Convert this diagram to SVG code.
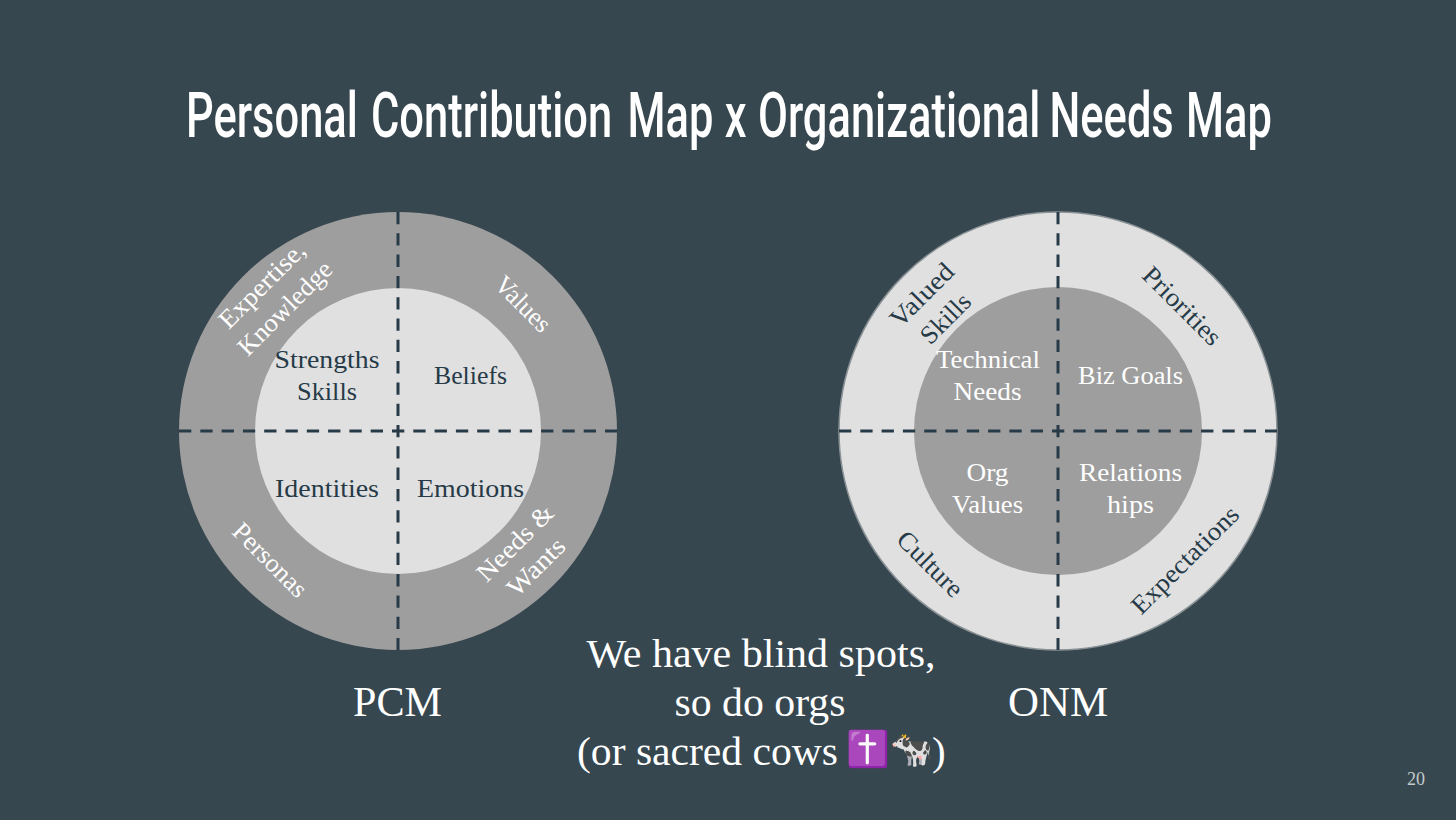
<svg xmlns="http://www.w3.org/2000/svg" width="1456" height="820" viewBox="0 0 1456 820">
<style>
text{font-family:"Liberation Serif","Noto Serif",serif;text-anchor:middle;font-size:26px}
.w{fill:#ffffff}
.d{fill:#263a47}
.ring{fill:#9e9e9e}
.core{fill:#e0e0e0}
.edge{stroke:#8a9296;stroke-width:1.5}
.dash{stroke:#263a47;stroke-width:3;stroke-dasharray:12.3 9;fill:none}
.big{font-size:42px}
.cap{font-size:41px}
#title{font-family:"Roboto","Liberation Sans",sans-serif;font-size:63px;font-weight:500;text-anchor:start}
</style>
<rect width="1456" height="820" fill="#37474f"/>
<text id="title" transform="translate(0 137) scale(.69 1)" class="w"><tspan x="269.6">Personal</tspan> <tspan x="537.7">Contribution</tspan> <tspan x="909.4">Map</tspan> <tspan x="1050.4">x</tspan> <tspan x="1098.500">Organizational</tspan> <tspan x="1521">Needs</tspan> <tspan x="1719">Map</tspan></text>
<g id="pcm">
<circle class="ring" cx="398" cy="431" r="219"/>
<circle class="core" cx="398" cy="431" r="143"/>
<text class="w" transform="translate(268 291) rotate(-45)" textLength="111" lengthAdjust="spacingAndGlyphs">Expertise,</text>
<text class="w" transform="translate(291 314) rotate(-45)" textLength="122" lengthAdjust="spacingAndGlyphs">Knowledge</text>
<text class="w" transform="translate(517 310) rotate(45)" textLength="68" lengthAdjust="spacingAndGlyphs">Values</text>
<text class="w" transform="translate(264 566) rotate(45)" textLength="94" lengthAdjust="spacingAndGlyphs">Personas</text>
<text class="w" transform="translate(521 549) rotate(-45)" textLength="97" lengthAdjust="spacingAndGlyphs">Needs &amp;</text>
<text class="w" transform="translate(542 573) rotate(-45)" textLength="71" lengthAdjust="spacingAndGlyphs">Wants</text>
<text class="d" x="327" y="368" textLength="105" lengthAdjust="spacingAndGlyphs">Strengths</text>
<text class="d" x="327" y="400" textLength="60" lengthAdjust="spacingAndGlyphs">Skills</text>
<text class="d" x="470.500" y="384" textLength="73" lengthAdjust="spacingAndGlyphs">Beliefs</text>
<text class="d" x="327" y="497" textLength="104" lengthAdjust="spacingAndGlyphs">Identities</text>
<text class="d" x="470.500" y="497" textLength="107" lengthAdjust="spacingAndGlyphs">Emotions</text>
<text class="w big" x="397.500" y="716" textLength="89" lengthAdjust="spacingAndGlyphs">PCM</text>
</g>
<g id="onm">
<circle class="core edge" cx="1058" cy="431" r="219"/>
<circle class="ring" cx="1058" cy="431" r="144"/>
<text class="d" transform="translate(928 301) rotate(-45)" textLength="79" lengthAdjust="spacingAndGlyphs">Valued</text>
<text class="d" transform="translate(951.500 324.500) rotate(-45)" textLength="60" lengthAdjust="spacingAndGlyphs">Skills</text>
<text class="d" transform="translate(1176 312) rotate(45)" textLength="100" lengthAdjust="spacingAndGlyphs">Priorities</text>
<text class="d" transform="translate(924 570) rotate(45)" textLength="82" lengthAdjust="spacingAndGlyphs">Culture</text>
<text class="d" transform="translate(1191 566) rotate(-45)" textLength="141" lengthAdjust="spacingAndGlyphs">Expectations</text>
<text class="w" x="988" y="368" textLength="104" lengthAdjust="spacingAndGlyphs">Technical</text>
<text class="w" x="987.500" y="400" textLength="68" lengthAdjust="spacingAndGlyphs">Needs</text>
<text class="w" x="1130.500" y="384" textLength="105" lengthAdjust="spacingAndGlyphs">Biz Goals</text>
<text class="w" x="987.500" y="481" textLength="42" lengthAdjust="spacingAndGlyphs">Org</text>
<text class="w" x="987.500" y="513" textLength="71" lengthAdjust="spacingAndGlyphs">Values</text>
<text class="w" x="1130.500" y="481" textLength="103" lengthAdjust="spacingAndGlyphs">Relations</text>
<text class="w" x="1130.500" y="513" textLength="47" lengthAdjust="spacingAndGlyphs">hips</text>
<text class="w big" x="1058" y="716" textLength="100" lengthAdjust="spacingAndGlyphs">ONM</text>
</g>
<g id="connectors">
<path class="dash" d="M398 212V650M179 431H617"/>
<path class="dash" d="M1058 212V650M839 431H1277"/>
</g>
<g id="caption">
<text class="w cap" x="761" y="667" textLength="349" lengthAdjust="spacingAndGlyphs">We have blind spots,</text>
<text class="w cap" x="760" y="716" textLength="171" lengthAdjust="spacingAndGlyphs">so do orgs</text>
<text class="w cap" y="765" style="text-anchor:start"><tspan x="577" textLength="261" lengthAdjust="spacingAndGlyphs">(or sacred cows</tspan> <tspan x="846" y="761" style="font-size:35px">✝️🐄</tspan><tspan x="932" y="765">)</tspan></text>
</g>
<text id="page" x="1416" y="785" style="font-size:18px" fill="#c4cbce">20</text>
</svg>
